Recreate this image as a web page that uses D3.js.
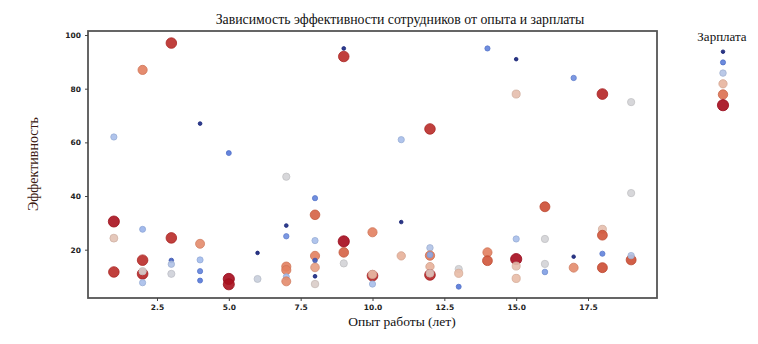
<!DOCTYPE html>
<html><head><meta charset="utf-8">
<script src="https://cdn.jsdelivr.net/npm/d3@7"></script>
<style>body{margin:0;background:#fff}svg{display:block}</style>
</head><body>
<script>
const experience = [3,2,4,1,5,9,9,12,11,14,15,17,15,18,19,1,2,1,3,4,6,2,3,3,4,1,2,2,3,4,4,2,5,5,6,7,8,7,7,8,8,9,9,9,10,11,11,7,7,7,7,8,8,8,8,8,10,10,10,12,12,12,12,12,12,13,13,13,14,14,15,15,15,15,16,16,16,16,17,17,18,18,18,18,19,19,19];
const efficiency = [97,87,67,62,56,95,92,65,61,95,91,84,78,78,75,30.5,27.6,24.3,24.4,22.2,18.8,16.1,16,14.6,16.2,11.7,11,12,11,12,8.5,7.7,9.1,7.1,9.1,47.2,39.2,29,25,33,23.4,23.1,19,14.9,26.5,30.3,17.7,13.7,12.4,9.9,8.2,17.7,16,13.4,10.1,7.2,10.3,10.8,7.2,20.7,17.8,18.1,13.7,10.6,11.2,12.8,11.2,6.2,19,15.9,24,16.5,13.9,9.3,36,24,14.7,11.7,17.4,13.3,27.6,25.4,18.5,13.3,41.1,16.2,17.8];
const salary = [140,118,32,72,52,32,140,140,72,55,30,58,100,142,88,148,68,98,140,115,30,140,45,75,70,140,142,90,86,55,52,72,150,148,84,88,55,32,58,125,72,150,125,88,118,30,105,118,118,70,115,118,45,110,32,92,142,102,72,75,120,65,105,142,95,88,102,52,118,128,72,150,100,102,130,88,88,62,30,115,100,128,55,130,88,130,75];
const legendSalary = [30,54,76,104,122,150];
const xTicks = [2.5,5.0,7.5,10.0,12.5,15.0,17.5];
const yTicks = [20,40,60,80,100];
const titleText = "Зависимость эффективности сотрудников от опыта и зарплаты";
const xLabel = "Опыт работы (лет)";
const yLabel = "Эффективность";
const legendTitle = "Зарплата";

const W=758,H=344;
const svg=d3.select("body").append("svg").attr("width",W).attr("height",H);
const L=88,R=657,T=31,B=298;
const x=d3.scaleLinear().domain([0.1,19.9]).range([L,R]);
const y=d3.scaleLinear().domain([2,101.5]).range([B,T]);
const color=d3.scaleLinear().domain([30,50,70,88,102,118,130,150])
  .range(["#13207a","#4b6fd6","#a2bbec","#d3d3d6","#e8bba6","#e2805f","#cc4c33","#a50a1c"]).clamp(true);
const rad=d3.scaleLinear().domain([30,150]).range([1.8,5.6]);

svg.append("text").attr("x",400).attr("y",24).attr("text-anchor","middle")
  .attr("font-family","Liberation Serif").attr("font-size",13.8).attr("fill","#111").text(titleText);

// points
const pts=experience.map((e,i)=>({e,v:efficiency[i],s:salary[i]}));
svg.append("g").selectAll("circle").data(pts).join("circle")
  .attr("cx",d=>x(d.e)).attr("cy",d=>y(d.v)).attr("r",d=>rad(d.s))
  .attr("fill",d=>color(d.s)).attr("fill-opacity",0.9)
  .attr("stroke",d=>d3.color(color(d.s)).darker(0.25)).attr("stroke-width",0.8);

// frame
svg.append("rect").attr("x",L).attr("y",T).attr("width",R-L).attr("height",B-T)
  .attr("fill","none").attr("stroke","#555").attr("stroke-width",1.8);

const xa=svg.append("g").attr("transform",`translate(0,${B})`)
  .call(d3.axisBottom(x).tickValues(xTicks).tickFormat(d3.format(".1f")).tickSize(3).tickPadding(4));
const ya=svg.append("g").attr("transform",`translate(${L},0)`)
  .call(d3.axisLeft(y).tickValues(yTicks).tickSize(3).tickPadding(4));
[xa,ya].forEach(a=>{a.select(".domain").remove();
  a.selectAll("text").attr("font-family","DejaVu Sans").attr("font-size",7.5).attr("font-weight","bold").attr("fill","#222");
  a.selectAll("line").attr("stroke","#444");});

svg.append("text").attr("x",402).attr("y",326).attr("text-anchor","middle")
  .attr("font-family","Liberation Serif").attr("font-size",13.5).attr("fill","#111").text(xLabel);
svg.append("text").attr("transform","translate(38,164) rotate(-90)").attr("text-anchor","middle")
  .attr("font-family","Liberation Serif").attr("font-size",14).attr("fill","#3b1a12").text(yLabel);

// legend
svg.append("text").attr("x",722).attr("y",41).attr("text-anchor","middle")
  .attr("font-family","Liberation Serif").attr("font-size",13).attr("fill","#111").text(legendTitle);
svg.append("g").selectAll("circle").data(legendSalary).join("circle")
  .attr("cx",723).attr("cy",(d,i)=>51.7+i*10.7).attr("r",d=>rad(d))
  .attr("fill",d=>color(d)).attr("fill-opacity",0.9)
  .attr("stroke",d=>d3.color(color(d)).darker(0.25)).attr("stroke-width",0.8);
</script>
</body></html>
